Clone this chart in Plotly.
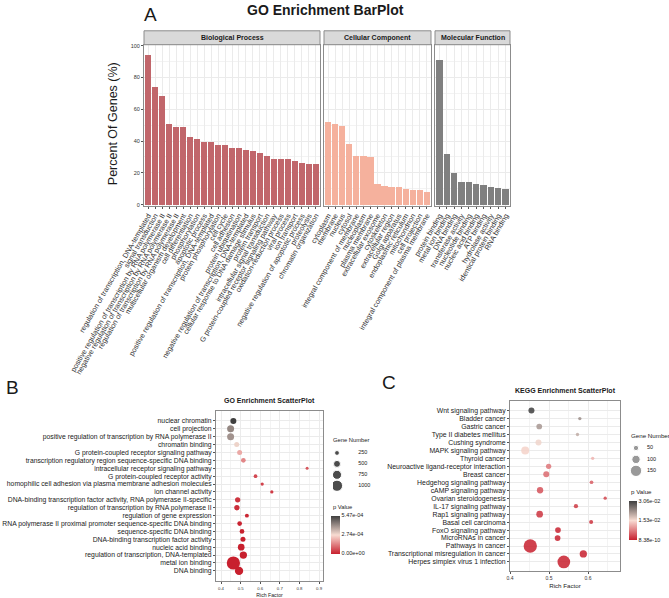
import plotly.graph_objects as go

W, H = 669, 598
FONT = "Liberation Sans, Arial, sans-serif"

# ---------------- A: GO bar plot ----------------
bp_terms = ["regulation of transcription, DNA-templated", "signal transduction",
            "positive regulation of transcription by RNA polymerase II",
            "negative regulation of transcription by RNA polymerase II",
            "regulation of transcription by RNA polymerase II",
            "multicellular organism development", "cell differentiation", "phosphorylation",
            "apoptotic process", "positive regulation of transcription, DNA-templated",
            "protein phosphorylation", "cell cycle", "cell adhesion", "protein ubiquitination",
            "negative regulation of transcription, DNA-templated",
            "cellular response to DNA damage stimulus", "protein transport",
            "intracellular signal transduction", "G protein-coupled receptor signaling pathway",
            "oxidation-reduction process", "viral process", "ion transport",
            "negative regulation of apoptotic process", "proteolysis", "chromatin organization"]
bp_pct = [94.6, 74.4, 68.7, 50.8, 49.0, 49.0, 42.7, 41.7, 39.8, 39.8, 37.9, 37.5, 35.6,
          35.6, 34.6, 34.0, 32.5, 30.8, 29.2, 29.2, 29.2, 27.5, 26.5, 25.6, 25.6]

cc_terms = ["cytoplasm", "membrane", "nucleus", "cytosol", "integral component of membrane",
            "nucleoplasm", "plasma membrane", "extracellular exosome", "cytoskeleton",
            "extracellular region", "Golgi apparatus", "endoplasmic reticulum", "mitochondrion",
            "cell projection", "integral component of plasma membrane"]
cc_pct = [51.9, 51.2, 49.6, 38.3, 30.8, 30.8, 30.0, 13.3, 11.9, 11.2, 11.0, 10.2, 9.6, 9.4, 8.1]

mf_terms = ["protein binding", "metal ion binding", "DNA binding", "transferase activity",
            "nucleotide binding", "nucleic acid binding", "ATP binding", "hydrolase activity",
            "identical protein binding", "RNA binding"]
mf_pct = [91.0, 32.1, 20.0, 14.6, 14.4, 13.3, 12.5, 11.0, 10.6, 9.9]

# ---------------- B: GO scatter (top to bottom) ----------------
go_terms = ["nuclear chromatin", "cell projection",
            "positive regulation of transcription by RNA polymerase II", "chromatin binding",
            "G protein-coupled receptor signaling pathway",
            "transcription regulatory region sequence-specific DNA binding",
            "intracellular receptor signaling pathway", "G protein-coupled receptor activity",
            "homophilic cell adhesion via plasma membrane adhesion molecules",
            "ion channel activity",
            "DNA-binding transcription factor activity, RNA polymerase II-specific",
            "regulation of transcription by RNA polymerase II", "regulation of gene expression",
            "RNA polymerase II proximal promoter sequence-specific DNA binding",
            "sequence-specific DNA binding", "DNA-binding transcription factor activity",
            "nucleic acid binding", "regulation of transcription, DNA-templated",
            "metal ion binding", "DNA binding"]
go_rich = [0.463, 0.449, 0.449, 0.480, 0.495, 0.514, 0.839, 0.576, 0.610, 0.659,
           0.485, 0.481, 0.532, 0.495, 0.507, 0.512, 0.503, 0.514, 0.463, 0.492]
go_genes = [390, 505, 505, 270, 270, 235, 35, 118, 70, 70,
            305, 305, 150, 235, 235, 270, 470, 540, 1240, 660]
go_p = [5.47e-4, 4.2e-4, 4.0e-4, 2.9e-4, 2.0e-4, 1.5e-4, 8e-5, 6e-5, 5e-5, 4e-5,
        3e-5, 2e-5, 1e-5, 5e-6, 1e-6, 1e-7, 1e-8, 1e-10, 1e-12, 1e-15]
go_size_breaks = [250, 500, 750, 1000]
go_p_ticks = [0.0, 2.735e-4, 5.47e-4]
go_p_labels = ["0.00e+00", "2.74e-04", "5.47e-04"]

# ---------------- C: KEGG scatter (top to bottom) ----------------
kegg_terms = ["Wnt signaling pathway", "Bladder cancer", "Gastric cancer",
              "Type II diabetes mellitus", "Cushing syndrome", "MAPK signaling pathway",
              "Thyroid cancer", "Neuroactive ligand-receptor interaction", "Breast cancer",
              "Hedgehog signaling pathway", "cAMP signaling pathway", "Ovarian steroidogenesis",
              "IL-17 signaling pathway", "Rap1 signaling pathway", "Basal cell carcinoma",
              "FoxO signaling pathway", "MicroRNAs in cancer", "Pathways in cancer",
              "Transcriptional misregulation in cancer", "Herpes simplex virus 1 infection"]
kegg_rich = [0.455, 0.579, 0.475, 0.573, 0.473, 0.439, 0.612, 0.499, 0.493, 0.609,
             0.477, 0.644, 0.569, 0.476, 0.608, 0.523, 0.522, 0.452, 0.588, 0.538]
kegg_genes = [62, 17, 57, 17, 62, 95, 17, 50, 62, 23, 67, 17, 33, 73, 28, 57, 57, 183, 83, 173]
kegg_p = [3.06e-2, 2.3e-2, 2.2e-2, 2.0e-2, 1.6e-2, 1.45e-2, 1.2e-2, 7e-3, 6e-3, 5e-3,
          4e-3, 3e-3, 2e-3, 1.6e-3, 1.5e-3, 2e-4, 1e-4, 2e-5, 1e-6, 8.38e-10]
kegg_size_breaks = [50, 100, 150]
kegg_p_ticks = [8.38e-10, 1.53e-2, 3.06e-2]
kegg_p_labels = ["8.38e-10", "1.53e-02", "3.06e-02"]

PSCALE = [[0, "#C8202E"], [0.5, "#F8DCD2"], [1, "#3F3F3F"]]


def px(x):
    return x / W


def py(y):
    return 1 - y / H


def go_size(n):
    return [2.7 + 0.0085 * v for v in n]


def kegg_size(n):
    return [2.3 + 0.06 * v for v in n]


fig = go.Figure()

fig.add_trace(go.Bar(x=bp_terms, y=bp_pct, xaxis="x", yaxis="y", width=0.88,
                     marker=dict(color="#C1666B", line_width=0)))
fig.add_trace(go.Bar(x=cc_terms, y=cc_pct, xaxis="x2", yaxis="y2", width=0.88,
                     marker=dict(color="#F5B19D", line_width=0)))
fig.add_trace(go.Bar(x=mf_terms, y=mf_pct, xaxis="x3", yaxis="y3", width=0.88,
                     marker=dict(color="#808080", line_width=0)))

fig.add_trace(go.Scatter(
    x=go_rich, y=go_terms, xaxis="x4", yaxis="y4", mode="markers",
    marker=dict(size=go_size(go_genes), color=go_p, colorscale=PSCALE, cmin=0, cmax=5.47e-4,
                line_width=0, opacity=1,
                colorbar=dict(x=px(331), xanchor="left", y=py(517), yanchor="top",
                              lenmode="pixels", len=38, thickness=9, xpad=0, ypad=0,
                              outlinewidth=0, ticks="", tickvals=go_p_ticks,
                              ticktext=go_p_labels, tickfont=dict(size=5.5, color="#1A1A1A")))))

fig.add_trace(go.Scatter(
    x=kegg_rich, y=kegg_terms, xaxis="x5", yaxis="y5", mode="markers",
    marker=dict(size=kegg_size(kegg_genes), color=kegg_p, colorscale=PSCALE,
                cmin=8.38e-10, cmax=3.06e-2, line_width=0, opacity=0.85,
                colorbar=dict(x=px(629), xanchor="left", y=py(502), yanchor="top",
                              lenmode="pixels", len=39, thickness=8, xpad=0, ypad=0,
                              outlinewidth=0, ticks="", tickvals=kegg_p_ticks,
                              ticktext=kegg_p_labels, tickfont=dict(size=5.5, color="#1A1A1A")))))

# size legends
fig.add_trace(go.Scatter(x=[0.095] * len(go_size_breaks), y=list(range(len(go_size_breaks))),
                         xaxis="x6", yaxis="y6", mode="markers",
                         marker=dict(size=go_size(go_size_breaks), color="black")))
fig.add_trace(go.Scatter(x=[0.6] * len(go_size_breaks), y=list(range(len(go_size_breaks))),
                         xaxis="x6", yaxis="y6", mode="text", textposition="middle right",
                         text=[str(b) for b in go_size_breaks],
                         textfont=dict(size=5.5, color="#1A1A1A")))
fig.add_trace(go.Scatter(x=[0.175] * len(kegg_size_breaks), y=list(range(len(kegg_size_breaks))),
                         xaxis="x7", yaxis="y7", mode="markers",
                         marker=dict(size=kegg_size(kegg_size_breaks), color="#6E6E6E")))
fig.add_trace(go.Scatter(x=[0.45] * len(kegg_size_breaks), y=list(range(len(kegg_size_breaks))),
                         xaxis="x7", yaxis="y7", mode="text", textposition="middle right",
                         text=[str(b) for b in kegg_size_breaks],
                         textfont=dict(size=5.5, color="#1A1A1A")))

GRID = "#EBEBEB"
BORDER = "#8C8C8C"
frame = dict(showline=True, mirror=True, linecolor=BORDER, linewidth=1, zeroline=False,
             gridcolor=GRID, gridwidth=0.6)

bar_x = dict(frame, tickangle=-60, tickfont=dict(size=7.3, color="#333333"),
             ticks="outside", ticklen=2, tickcolor="#555555", tickmode="array", automargin=False)
bar_y = dict(frame, range=[-0.6, 100.6], domain=[py(205), py(43)], dtick=20,
             minor=dict(dtick=10, showgrid=True, gridcolor="#F3F3F3"))

sc_x = dict(frame, ticks="outside", ticklen=2, tickcolor="#555555", automargin=False,
            minor=dict(showgrid=True, gridcolor="#F3F3F3"))
sc_y = dict(frame, ticks="outside", ticklen=2, tickcolor="#555555", automargin=False,
            type="category")

hidden = dict(visible=False, range=[0, 1])

fig.update_layout(
    width=W, height=H, margin=dict(l=0, r=0, t=0, b=0), autosize=False,
    paper_bgcolor="white", plot_bgcolor="white", showlegend=False, bargap=0,
    font=dict(family=FONT, color="#1A1A1A"),
    xaxis=dict(bar_x, domain=[px(144), px(320)], range=[-0.6, 24.6], anchor="y",
               tickvals=bp_terms),
    xaxis2=dict(bar_x, domain=[px(324), px(431)], range=[-0.6, 14.6], anchor="y2",
                tickvals=cc_terms),
    xaxis3=dict(bar_x, domain=[px(435), px(510)], range=[-0.6, 9.6], anchor="y3",
                tickvals=mf_terms),
    yaxis=dict(bar_y, anchor="x", ticks="outside", ticklen=2, tickcolor="#555555",
               tickfont=dict(size=5.5, color="#333333")),
    yaxis2=dict(bar_y, anchor="x2", showticklabels=False),
    yaxis3=dict(bar_y, anchor="x3", showticklabels=False),
    xaxis4=dict(sc_x, domain=[px(216), px(323)], range=[0.3745, 0.92], anchor="y4",
                dtick=0.1, tick0=0.4, tickfont=dict(size=4.3, color="#333333"),
                minor=dict(dtick=0.05, showgrid=True, gridcolor="#F3F3F3"),
                title=dict(text="Rich Factor", font=dict(size=5.2), standoff=3)),
    yaxis4=dict(sc_y, domain=[py(583.3), py(411.3)], anchor="x4", range=[-1.33, 20.31],
                categoryorder="array", categoryarray=go_terms[::-1], tickmode="array",
                tickvals=go_terms, tickfont=dict(size=6.8, color="#1A1A1A")),
    xaxis5=dict(sc_x, domain=[px(510), px(620)], range=[0.4, 0.682], anchor="y5",
                dtick=0.1, tick0=0.5, tickfont=dict(size=5, color="#333333"),
                minor=dict(dtick=0.05, showgrid=True, gridcolor="#F3F3F3"),
                title=dict(text="Rich Factor", font=dict(size=6.2), standoff=3)),
    yaxis5=dict(sc_y, domain=[py(572.7), py(401.7)], anchor="x5", range=[-1.12, 20.2],
                categoryorder="array", categoryarray=kegg_terms[::-1], tickmode="array",
                tickvals=kegg_terms, tickfont=dict(size=6.9, color="#1A1A1A")),
    xaxis6=dict(hidden, domain=[px(333), px(375)], anchor="y6"),
    yaxis6=dict(visible=False, domain=[py(492.5), py(448.5)], range=[3.5, -0.5], anchor="x6"),
    xaxis7=dict(hidden, domain=[px(629), px(669)], anchor="y7"),
    yaxis7=dict(visible=False, domain=[py(477.75), py(443.25)], range=[2.5, -0.5], anchor="x7"),
)

# facet strips
strips = [("Biological Process", 144, 320), ("Cellular Component", 324, 431),
          ("Molecular Function", 435, 510)]
for label, x0, x1 in strips:
    fig.add_shape(type="rect", xref="paper", yref="paper", x0=px(x0), x1=px(x1),
                  y0=py(43), y1=py(29), fillcolor="#D9D9D9", line=dict(color=BORDER, width=1))
    fig.add_annotation(text="<b>%s</b>" % label, xref="paper", yref="paper",
                       x=px((x0 + x1) / 2), y=py(36), xanchor="center", yanchor="middle",
                       showarrow=False, font=dict(size=7, color="#1A1A1A"))

notes = [
    ("<b>GO Enrichment BarPlot</b>", 325, 8, 14, "center", 0),
    ("<b>GO Enrichment ScatterPlot</b>", 269, 401, 7, "center", 0),
    ("<b>KEGG Enrichment ScatterPlot</b>", 565, 391, 7, "center", 0),
    ("A", 150, 13, 19, "center", 0),
    ("B", 12, 388, 19, "center", 0),
    ("C", 389, 383, 19, "center", 0),
    ("Gene Number", 331, 441, 5.8, "left", 0),
    ("p Value", 331, 508, 5.8, "left", 0),
    ("Gene Number", 629, 436, 6.2, "left", 0),
    ("p Value", 629, 493, 6.2, "left", 0),
    ("Percent Of Genes (%)", 113, 123, 12.5, "center", -90),
]
for text, x, y, size, anchor, angle in notes:
    fig.add_annotation(text=text, xref="paper", yref="paper", x=px(x), y=py(y),
                       xanchor=anchor, yanchor="middle", showarrow=False, textangle=angle,
                       font=dict(size=size, color="#1A1A1A"))

fig.write_html("out.html", config={"displayModeBar": False},
               post_script="document.body.style.margin='0';document.body.style.overflow='hidden';")
